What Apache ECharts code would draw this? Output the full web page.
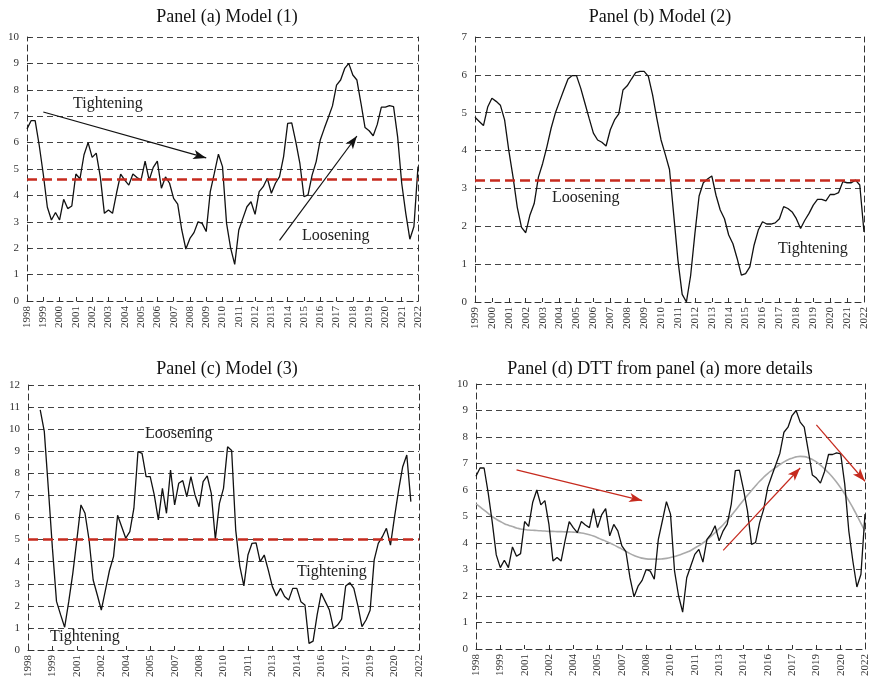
<!DOCTYPE html>
<html><head><meta charset="utf-8">
<script src="https://cdn.jsdelivr.net/npm/echarts@6/dist/echarts.min.js"></script>
<style>html,body{margin:0;padding:0;background:#fff}#c{width:873px;height:684px}</style>
</head><body><div id="c"></div>
<script>
function quarters(y0, y1){ const out=[]; for(let y=y0;y<=y1;y++){ for(let q=1;q<=4;q++){ out.push(y+'Q'+q); if(y===y1) return out; } } return out; }
const catA = quarters(1998, 2022);
const catB = quarters(1999, 2022);
const catC = quarters(1998, 2022);

const valuesA = [6.52,6.83,6.83,5.9,4.8,3.55,3.07,3.35,3.07,3.85,
 3.5,3.6,4.81,4.63,5.54,6.0,5.44,5.6,4.7,3.32,
 3.45,3.32,4.1,4.81,4.58,4.39,4.81,4.68,4.58,5.3,
 4.58,5.06,5.3,4.27,4.7,4.46,3.89,3.67,2.69,1.97,
 2.37,2.59,3.0,2.94,2.63,4.14,4.84,5.56,5.09,2.94,
 2.0,1.39,2.69,3.13,3.57,3.76,3.28,4.14,4.33,4.65,
 4.08,4.46,4.71,5.47,6.73,6.75,6.03,5.21,3.95,4.02,
 4.77,5.28,6.1,6.54,6.96,7.39,8.18,8.37,8.81,9.0,
 8.56,8.37,7.49,6.57,6.45,6.26,6.69,7.34,7.34,7.4,
 7.36,6.22,4.46,3.32,2.34,2.82,5.09];

const valuesB = [4.88,4.77,4.66,5.15,5.38,5.3,5.2,4.81,4.0,3.3,
 2.5,1.97,1.83,2.3,2.6,3.3,3.66,4.1,4.59,4.99,
 5.3,5.6,5.89,5.98,5.98,5.65,5.25,4.85,4.46,4.28,
 4.22,4.12,4.55,4.81,4.97,5.6,5.71,5.89,6.06,6.09,
 6.09,5.96,5.47,4.85,4.28,3.9,3.5,2.3,1.1,0.2,
 0.0,0.7,1.8,2.8,3.15,3.25,3.33,2.82,2.43,2.2,
 1.77,1.54,1.15,0.71,0.75,0.93,1.5,1.9,2.12,2.06,
 2.06,2.09,2.2,2.52,2.47,2.38,2.2,1.94,2.16,2.34,
 2.56,2.71,2.71,2.67,2.84,2.84,2.89,3.18,3.15,3.15,
 3.22,3.09,1.85];

const valuesC = [null,null,null,10.87,9.9,7.3,4.6,2.2,1.6,1.03,
 2.19,3.47,5.0,6.57,6.19,4.98,3.17,2.5,1.81,2.7,
 3.6,4.23,6.1,5.58,5.06,5.36,6.42,8.98,8.9,7.85,
 7.85,7.02,5.89,7.32,6.19,8.15,6.57,7.55,7.67,6.94,
 7.85,7.02,6.49,7.62,7.88,7.09,5.01,6.64,7.32,9.2,
 9.03,5.43,3.8,2.9,4.3,4.83,4.85,4.0,4.3,3.62,
 2.87,2.45,2.79,2.42,2.26,2.79,2.79,2.19,2.04,0.3,
 0.4,1.6,2.57,2.19,1.81,0.98,1.13,1.4,2.9,3.05,
 2.79,2.0,1.06,1.36,1.8,4.08,4.83,5.13,5.51,4.75,
 6.04,7.25,8.3,8.83,6.72,null,null];

const trendD = [5.48,5.36,5.24,5.12,5.0,4.9,4.81,4.73,4.67,4.62,
 4.57,4.53,4.51,4.49,4.48,4.47,4.46,4.45,4.44,4.44,
 4.43,4.43,4.42,4.42,4.41,4.4,4.38,4.35,4.31,4.26,
 4.2,4.13,4.07,4.0,3.93,3.85,3.77,3.68,3.6,3.53,
 3.47,3.43,3.4,3.39,3.39,3.39,3.4,3.42,3.45,3.49,
 3.54,3.59,3.65,3.72,3.81,3.9,4.0,4.12,4.25,4.39,
 4.54,4.69,4.86,5.04,5.23,5.42,5.61,5.8,5.98,6.16,
 6.33,6.48,6.62,6.74,6.85,6.96,7.06,7.14,7.2,7.25,
 7.27,7.26,7.22,7.15,7.06,6.94,6.8,6.65,6.48,6.29,
 6.08,5.85,5.6,5.33,5.04,4.74,4.45];

const refA = 4.62, refB = 3.22, refC = 5.0;
const arrowsA = [[[4,7.16],[44,5.42]], [[62,2.3],[81,6.25]]];
const arrowsD = [[[10,6.76],[41,5.6]], [[61,3.72],[80,6.83]], [[84,8.46],[96,6.33]]];

const FF = '"Liberation Serif","Times New Roman",serif';
const RED = '#c62a1e';
const dash = [6,4];

function xAx(gi, cats, interval){
  return {type:'category', gridIndex:gi, data:cats, boundaryGap:false,
    axisLine:{lineStyle:{color:'#333', type:dash, width:1}},
    axisTick:{inside:true, length:4, interval:interval, lineStyle:{color:'#333'}},
    axisLabel:{interval:interval, rotate:90, formatter:v=>v.slice(0,4), fontFamily:FF, fontSize:11, color:'#333', margin:5},
    splitLine:{show:false}};
}
function yAx(gi, max){
  return {type:'value', gridIndex:gi, min:0, max:max, interval:1,
    axisLine:{show:true, lineStyle:{color:'#333', type:dash, width:1}},
    axisTick:{show:true, inside:true, length:4, lineStyle:{color:'#333'}},
    axisLabel:{fontFamily:FF, fontSize:11, color:'#333', margin:8},
    splitLine:{show:true, lineStyle:{color:'#444', type:dash, width:1}}};
}
function yAxR(gi, max){
  return {type:'value', gridIndex:gi, position:'right', min:0, max:max, interval:1,
    axisLine:{show:true, lineStyle:{color:'#333', type:dash, width:1}},
    axisTick:{show:false}, axisLabel:{show:false}, splitLine:{show:false}};
}
function arrowItems(list, color){
  return list.map(a => [
    {coord:a[0], symbol:'none', lineStyle:{color:color, width:1.2, type:'solid'}},
    {coord:a[1], symbol:'arrow', symbolSize:[7,13], lineStyle:{color:color, width:1.2, type:'solid'}}
  ]);
}
function refItem(v){ return {yAxis:v, lineStyle:{color:RED, width:2.6, type:[10,5]}}; }
function lineSeries(gi, data, marks){
  return {type:'line', xAxisIndex:gi, yAxisIndex:gi*2, data:data, symbol:'none', showSymbol:false,
    lineStyle:{color:'#111', width:1.3}, z:3,
    markLine:{silent:true, symbol:'none', label:{show:false}, animation:false, data:marks}};
}
function txt(x, y, s){
  return {type:'text', x:x, y:y, z:10, style:{text:s, font:'16px '+FF, fill:'#222', textVerticalAlign:'middle', verticalAlign:'middle'}};
}

const chart = echarts.init(document.getElementById('c'));
chart.setOption({
  animation:false,
  backgroundColor:'#fff',
  title:[
    {text:'Panel (a) Model (1)', left:222, top:3, textAlign:'center', textStyle:{fontFamily:FF, fontSize:18, fontWeight:'normal', color:'#111'}},
    {text:'Panel (b) Model (2)', left:655, top:3, textAlign:'center', textStyle:{fontFamily:FF, fontSize:18, fontWeight:'normal', color:'#111'}},
    {text:'Panel (c) Model (3)', left:222, top:355, textAlign:'center', textStyle:{fontFamily:FF, fontSize:18, fontWeight:'normal', color:'#111'}},
    {text:'Panel (d) DTT from panel (a) more details', left:655, top:355, textAlign:'center', textStyle:{fontFamily:FF, fontSize:18, fontWeight:'normal', color:'#111'}}
  ],
  grid:[
    {left:27, top:37, width:391, height:264},
    {left:475, top:37, width:389, height:265},
    {left:28, top:385, width:391, height:265},
    {left:476, top:384, width:389, height:265}
  ],
  xAxis:[xAx(0,catA,3), xAx(1,catB,3), xAx(2,catC,5), xAx(3,catA,5)],
  yAxis:[yAx(0,10), yAxR(0,10), yAx(1,7), yAxR(1,7), yAx(2,12), yAxR(2,12), yAx(3,10), yAxR(3,10)],
  series:[
    lineSeries(0, valuesA, [refItem(refA)].concat(arrowItems(arrowsA,'#111'))),
    lineSeries(1, valuesB, [refItem(refB)]),
    lineSeries(2, valuesC, [refItem(refC)]),
    {type:'line', xAxisIndex:3, yAxisIndex:6, data:trendD, symbol:'none', showSymbol:false, smooth:true,
      lineStyle:{color:'#aaa', width:1.6}, z:2},
    lineSeries(3, valuesA, arrowItems(arrowsD, RED))
  ],
  graphic:[
    txt(73,104,'Tightening'), txt(302,236,'Loosening'),
    txt(552,198,'Loosening'), txt(778,249,'Tightening'),
    txt(145,434,'Loosening'), txt(297,572,'Tightening'), txt(50,637,'Tightening')
  ]
});
</script></body></html>
